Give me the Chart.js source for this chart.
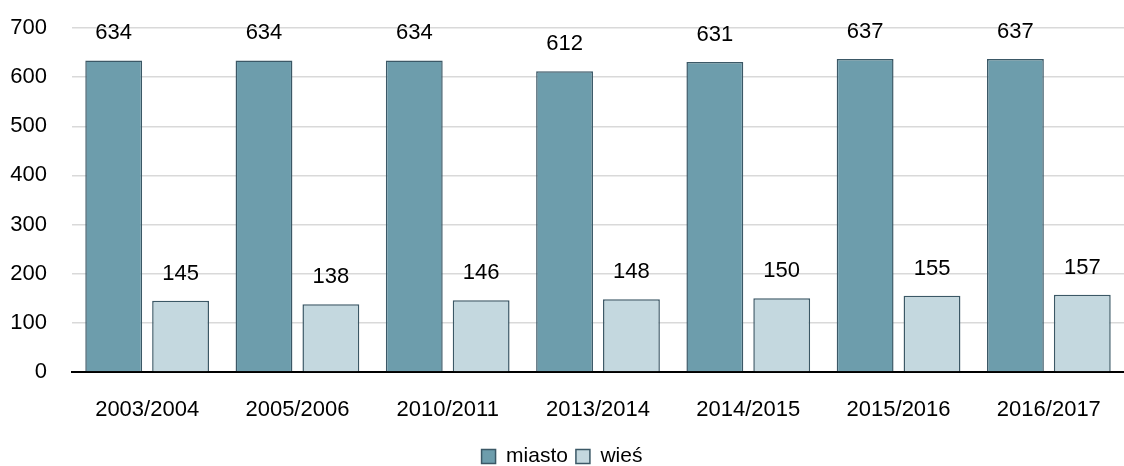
<!DOCTYPE html>
<html>
<head>
<meta charset="utf-8">
<script src="https://cdn.jsdelivr.net/npm/chart.js@4/dist/chart.umd.min.js"></script>
<style>
  html, body { margin: 0; padding: 0; background: #fff; }
  #wrap { width: 1124px; height: 466px; }
</style>
</head>
<body>
<div id="wrap"><canvas id="chart"></canvas></div>
<script>
const years = ['2003/2004', '2005/2006', '2010/2011', '2013/2014', '2014/2015', '2015/2016', '2016/2017'];
const miasto = [634, 634, 634, 612, 631, 637, 637];
const wies = [145, 138, 146, 148, 150, 155, 157];
const yTicks = [0, 100, 200, 300, 400, 500, 600, 700];

const FONT = '"Liberation Sans", Arial, sans-serif';

// value labels above bars
const valueLabels = {
    id: 'valueLabels',
    afterDatasetsDraw(chart) {
        const ctx = chart.ctx;
        ctx.save();
        ctx.font = '22px ' + FONT;
        ctx.fillStyle = '#000';
        ctx.textAlign = 'center';
        ctx.textBaseline = 'middle';
        chart.data.datasets.forEach((ds, i) => {
            chart.getDatasetMeta(i).data.forEach((bar, j) => {
                ctx.fillText(ds.data[j], bar.x, bar.y - 27);
            });
        });
        ctx.restore();
    },
};

new Chart(document.getElementById('chart').getContext('2d'), {
    type: 'bar',
    data: {
        labels: years,
        datasets: [{
            label: 'miasto',
            data: miasto,
            backgroundColor: '#6d9dac',
            borderColor: '#3b5866',
            borderWidth: 1.5,
        }, {
            label: 'wieś',
            data: wies,
            backgroundColor: '#c4d8df',
            borderColor: '#3b5866',
            borderWidth: 1.5,
        }],
    },
    options: {
        responsive: true,
        maintainAspectRatio: false,
        animation: false,
        categoryPercentage: 0.89,
        barPercentage: 0.85,
        layout: { padding: { top: 0, right: 0, left: 0, bottom: -11 } },
        scales: {
            y: {
                min: 0,
                max: 700,
                afterBuildTicks: (axis) => { axis.ticks = yTicks.map(v => ({ value: v })); },
                afterFit: (axis) => { axis.width = 72; axis.paddingTop = 28; },
                border: { display: false },
                grid: {
                    color: (c) => c.tick.value === 0 ? 'rgba(0,0,0,0)' : '#d9d9d9',
                    lineWidth: 1.5,
                    drawTicks: false,
                },
                ticks: { color: '#000', font: { family: FONT, size: 22 }, padding: 25 },
            },
            x: {
                afterFit: (axis) => { axis.height = 66; },
                border: { display: true, color: '#000', width: 2 },
                grid: { display: false },
                ticks: { color: '#000', font: { family: FONT, size: 22 }, padding: 17 },
            },
        },
        plugins: {
            legend: {
                position: 'bottom',
                labels: {
                    color: '#000',
                    font: { family: FONT, size: 21 },
                    boxWidth: 14,
                    boxHeight: 14,
                    padding: 8,
                },
            },
            tooltip: { enabled: false },
        },
    },
    plugins: [valueLabels],
});
</script>
</body>
</html>
